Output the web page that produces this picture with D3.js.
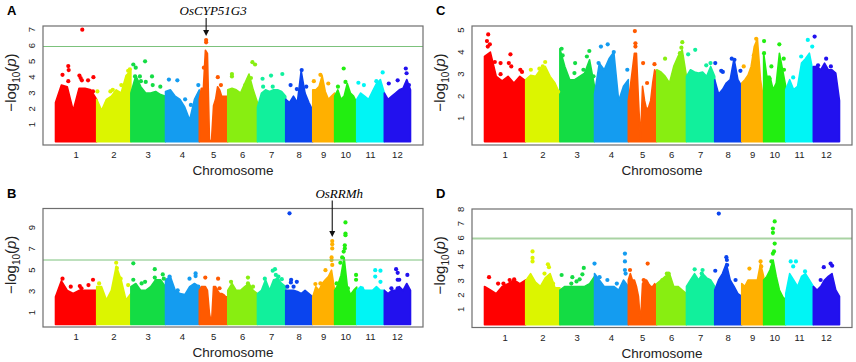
<!DOCTYPE html>
<html>
<head>
<meta charset="utf-8">
<script src="https://cdn.jsdelivr.net/npm/d3@7/dist/d3.min.js"></script>
<style>
  body { margin: 0; background: #fff; }
  svg { display: block; font-family: Arial, "Liberation Sans", sans-serif; }
</style>
</head>
<body>
<div id="vizContainer"></div>
<script>
let w = 856;
let h = 362;

// chromosomes (rice, Mb) and their colours
let chromNames = ["1", "2", "3", "4", "5", "6", "7", "8", "9", "10", "11", "12"];
let chromLengths = [43.3, 35.9, 36.4, 35.5, 29.9, 31.2, 29.7, 28.4, 23.0, 23.2, 29.0, 27.5];
let chromColors = ["#ff0000", "#dcf500", "#14dc44", "#149cf0", "#ff5a00", "#88ee11",
	"#11f09c", "#0a44ee", "#ffb000", "#22ee11", "#00f5f5", "#2211ee"];

// upper edge of the dense cloud, -log10(p) read at evenly spaced points along each chromosome
let bulkA = [
	[2.4, 3.5, 3.4, 1.9, 3.3, 3.3, 3.2, 2.6],
	[2.6, 1.9, 2.6, 2.8, 3.2, 3.0, 4.1, 4.4],
	[3.0, 4.1, 3.4, 3.0, 3.0, 3.1, 2.9, 2.8],
	[3.1, 3.2, 2.8, 2.6, 2.1, 1.3, 2.6, 3.2],
	[2.6, 3.3, 3.3, 5.7, 5.5, 0, 0, 2.2, 2.6, 3.4, 3.2, 2.8, 2.8, 2.8, 2.8],
	[3.2, 3.3, 3.2, 3.0, 3.6, 4.2, 3.2, 2.4],
	[2.1, 3.0, 3.2, 3.1, 3.2, 3.2, 3.1, 2.8],
	[2.6, 2.4, 2.8, 2.4, 4.4, 3.0, 2.4, 1.9],
	[3.2, 3.2, 3.4, 4.1, 3.1, 2.6, 2.8, 3.0],
	[2.8, 3.2, 2.6, 2.8, 3.6, 3.0, 2.8, 2.4],
	[2.6, 3.0, 2.8, 2.6, 3.1, 3.6, 3.85, 3.0],
	[3.0, 2.6, 2.8, 3.0, 3.2, 3.3, 3.85, 3.2]
];
// isolated SNPs: [chromosome index, relative position along chromosome, -log10(p)]
let hitsA = [
	[0, 0.65, 7.0], [0, 0.17, 4.15], [0, 0.31, 4.7], [0, 0.32, 4.45], [0, 0.31, 3.75], [0, 0.58, 4.1],
	[0, 0.61, 3.95], [0, 0.64, 3.8], [0, 0.79, 3.8], [0, 0.92, 4.0], [0, 0.91, 3.1],
	[1, 0.97, 4.5], [1, 0.92, 4.4], [1, 0.72, 3.5], [1, 0.47, 3.2], [1, 0.02, 3.1], [1, 0.4, 3.1],
	[2, 0.07, 4.8], [2, 0.14, 4.6], [2, 0.12, 4.05], [2, 0.26, 4.05], [2, 0.29, 3.75], [2, 0.41, 5.0],
	[2, 0.43, 3.7], [2, 0.61, 4.05], [2, 0.63, 3.5], [2, 0.85, 3.4],
	[3, 0.1, 3.85], [3, 0.35, 3.8], [3, 0.58, 2.6], [3, 0.75, 2.25], [3, 0.97, 3.5],
	[4, 0.24, 6.35], [4, 0.24, 6.2], [4, 0.16, 4.6], [4, 0.65, 4.0], [4, 0.76, 3.5],
	[5, 0.14, 4.2], [5, 0.14, 4.05], [5, 0.83, 4.95], [5, 0.92, 4.8], [5, 0.78, 3.95], [5, 0.59, 3.5],
	[6, 0.18, 3.9], [6, 0.48, 4.1], [6, 0.88, 4.2], [6, 0.54, 3.4], [6, 0.2, 3.4],
	[7, 0.59, 4.45], [7, 0.18, 3.5], [7, 0.41, 3.25], [7, 0.76, 3.4],
	[8, 0.05, 3.75], [8, 0.35, 4.15], [8, 0.71, 3.6],
	[9, 0.41, 4.55], [9, 0.15, 3.4], [9, 0.49, 3.7],
	[10, 0.06, 3.65], [10, 0.26, 3.5], [10, 0.94, 4.3], [10, 0.71, 3.75],
	[11, 0.17, 3.6], [11, 0.51, 3.8], [11, 0.82, 4.55], [11, 0.85, 4.25], [11, 0.94, 3.5]
];

let bulkB = [
	[2.5, 4.0, 3.1, 2.8, 3.1, 3.1, 3.1, 3.1],
	[3.45, 3.45, 2.2, 3.1, 5.4, 4.1, 2.2, 2.8],
	[3.45, 3.75, 3.1, 3.1, 3.45, 4.1, 4.1, 3.45],
	[4.1, 4.4, 3.1, 2.8, 2.7, 3.45, 3.75, 3.45],
	[3.1, 3.45, 3.45, 3.45, 3.1, 0.9, 0, 3.45, 3.45, 3.1, 2.8, 2.8, 2.7, 2.5, 2.5],
	[3.1, 3.75, 3.1, 3.1, 3.45, 3.75, 3.1, 2.8],
	[2.8, 3.1, 4.1, 3.1, 4.1, 4.2, 3.75, 3.45],
	[3.1, 3.1, 3.1, 3.0, 2.8, 3.1, 2.8, 2.5],
	[2.5, 3.45, 3.1, 3.75, 4.1, 4.4, 5.0, 3.1],
	[3.1, 3.6, 4.5, 6.2, 3.5, 2.7, 3.1, 3.4],
	[3.1, 3.45, 3.1, 3.1, 3.1, 3.45, 3.1, 3.1],
	[3.1, 2.8, 3.1, 3.1, 3.45, 3.1, 3.75, 3.1]
];
let hitsB = [
	[0, 0.17, 4.2], [0, 0.37, 3.45], [0, 0.59, 3.5], [0, 0.63, 3.3], [0, 0.8, 3.6], [0, 0.91, 4.1],
	[1, 0.57, 5.7], [1, 0.59, 5.2], [1, 0.7, 4.2], [1, 0.92, 3.6], [1, 0.07, 3.75],
	[2, 0.07, 5.65], [2, 0.07, 4.1], [2, 0.31, 3.75], [2, 0.41, 3.9], [2, 0.69, 5.1], [2, 0.69, 4.3],
	[2, 0.92, 4.6], [2, 0.95, 4.2],
	[3, 0.12, 4.4], [3, 0.71, 4.2], [3, 0.89, 4.7], [3, 0.89, 4.45], [3, 0.97, 3.45], [3, 0.36, 3.1],
	[4, 0.21, 4.3], [4, 0.66, 4.2], [4, 0.71, 3.3],
	[5, 0.11, 3.9], [5, 0.68, 4.3], [5, 0.68, 3.75], [5, 0.85, 3.45],
	[6, 0.26, 4.2], [6, 0.54, 4.95], [6, 0.62, 5.1], [6, 0.74, 4.4], [6, 0.71, 4.15], [6, 0.86, 4.15], [6, 0.65, 4.55],
	[7, 0.14, 10.35], [7, 0.2, 4.1], [7, 0.19, 3.85], [7, 0.41, 3.9], [7, 0.06, 3.45], [7, 0.29, 3.45],
	[8, 0.89, 7.75], [8, 0.89, 7.45], [8, 0.89, 7.05], [8, 0.86, 6.2], [8, 0.86, 5.95], [8, 0.89, 5.5],
	[8, 0.58, 5.0], [8, 0.35, 3.75], [8, 0.12, 3.7],
	[9, 0.49, 9.5], [9, 0.49, 8.45], [9, 0.49, 8.3], [9, 0.46, 7.35], [9, 0.46, 7.05], [9, 0.41, 6.75],
	[9, 0.34, 6.2], [9, 0.26, 5.7], [9, 0.09, 3.75], [9, 0.6, 3.3], [9, 0.97, 4.55], [9, 0.97, 4.1],
	[10, 0.67, 5.0], [10, 0.86, 4.95], [10, 0.67, 4.4], [10, 0.86, 3.9], [10, 0.19, 3.3],
	[11, 0.45, 5.1], [11, 0.51, 4.75], [11, 0.51, 4.1], [11, 0.57, 4.1], [11, 0.88, 4.55], [11, 0.51, 3.3], [11, 0.27, 3.3]
];

let bulkC = [
	[3.8, 4.0, 2.9, 2.7, 2.9, 2.6, 2.9, 2.7],
	[2.75, 2.95, 2.9, 3.2, 3.35, 2.9, 2.6, 2.1],
	[4.15, 3.35, 2.75, 2.75, 2.9, 3.05, 3.65, 2.45],
	[2.1, 3.5, 3.2, 3.7, 4.0, 1.8, 2.45, 2.75],
	[1.8, 2.45, 3.2, 3.95, 3.95, 1.8, 0, 2.45, 1.8, 1.4, 1.5, 1.8, 2.6, 3.2, 2.9],
	[3.2, 3.1, 2.9, 2.6, 3.35, 3.8, 4.1, 2.9],
	[2.9, 3.2, 3.1, 3.05, 3.1, 2.9, 3.35, 2.9],
	[2.75, 2.1, 2.3, 2.6, 2.75, 3.7, 2.75, 2.45],
	[2.6, 2.75, 2.95, 3.35, 4.25, 4.6, 2.75, 1.8],
	[3.95, 2.9, 2.9, 2.3, 2.6, 3.95, 3.2, 2.45],
	[2.3, 2.75, 2.3, 2.45, 3.5, 3.7, 3.95, 3.05],
	[3.35, 3.35, 3.2, 3.5, 3.2, 3.2, 3.05, 1.8]
];
let hitsC = [
	[0, 0.09, 4.8], [0, 0.06, 4.5], [0, 0.08, 4.25], [0, 0.13, 4.35], [0, 0.25, 3.55], [0, 0.39, 3.5],
	[0, 0.39, 3.0], [0, 0.63, 3.9], [0, 0.59, 3.5], [0, 0.65, 3.35], [0, 0.87, 3.2], [0, 0.91, 3.1],
	[1, 0.57, 3.55], [1, 0.15, 3.2], [1, 0.4, 3.25], [1, 0.5, 3.35], [1, 0.95, 2.2],
	[2, 0.05, 4.15], [2, 0.08, 3.85], [2, 0.44, 3.5], [2, 0.78, 3.8], [2, 0.85, 4.05], [2, 0.97, 2.9],
	[2, 0.68, 3.2], [2, 0.42, 3.05],
	[3, 0.19, 4.25], [3, 0.39, 4.35], [3, 0.57, 4.0], [3, 0.97, 3.2], [3, 0.12, 3.5],
	[4, 0.23, 4.95], [4, 0.25, 4.4], [4, 0.25, 4.25], [4, 0.52, 3.5], [4, 0.92, 3.45], [4, 0.66, 2.6],
	[5, 0.28, 3.7], [5, 0.86, 4.45], [5, 0.83, 4.2], [5, 0.78, 3.95],
	[6, 0.06, 3.9], [6, 0.31, 4.1], [6, 0.7, 3.4], [6, 0.85, 3.5],
	[7, 0.02, 3.5], [7, 0.24, 3.15], [7, 0.3, 3.1], [7, 0.63, 3.7], [7, 0.73, 3.65], [7, 0.95, 3.15],
	[8, 0.66, 4.6], [8, 0.55, 3.85], [8, 0.09, 3.35], [8, 0.82, 2.45],
	[9, 0.02, 4.5], [9, 0.02, 3.95], [9, 0.35, 3.35], [9, 0.27, 2.8], [9, 0.71, 4.35], [9, 0.91, 3.7], [9, 0.92, 3.2],
	[10, 0.27, 2.85], [10, 0.56, 3.8], [10, 0.8, 4.55], [10, 0.96, 4.25],
	[11, 0.05, 4.7], [11, 0.18, 3.4], [11, 0.49, 3.7], [11, 0.67, 3.35]
];

let bulkD = [
	[2.6, 2.35, 2.1, 2.6, 2.8, 3.05, 2.8, 3.05],
	[3.0, 3.5, 2.9, 2.6, 3.2, 3.5, 2.5, 2.5],
	[2.35, 2.6, 2.6, 2.6, 2.6, 2.6, 2.8, 3.3],
	[3.5, 3.05, 2.6, 2.6, 2.6, 2.35, 3.05, 2.6],
	[3.05, 3.5, 3.05, 3.05, 2.6, 1.9, 0, 2.8, 3.05, 3.05, 2.8, 2.6, 2.6, 2.8, 2.6],
	[2.8, 3.05, 3.3, 3.5, 2.6, 2.6, 2.35, 2.1],
	[2.6, 3.05, 3.5, 3.05, 3.5, 3.2, 3.05, 2.6],
	[2.35, 3.05, 3.5, 4.2, 3.05, 2.6, 2.1, 1.9],
	[2.8, 2.6, 3.05, 3.05, 3.05, 3.05, 4.2, 3.3],
	[3.05, 3.3, 3.75, 4.45, 3.3, 2.35, 1.9, 1.65],
	[2.1, 3.5, 3.05, 2.6, 3.3, 3.5, 3.05, 2.6],
	[2.6, 2.35, 2.6, 3.05, 3.3, 3.5, 2.35, 1.9]
];
let hitsD = [
	[0, 0.11, 3.25], [0, 0.33, 2.8], [0, 0.46, 2.8], [0, 0.61, 3.05], [0, 0.72, 3.1],
	[1, 0.2, 5.05], [1, 0.2, 4.6], [1, 0.2, 4.35], [1, 0.65, 4.15], [1, 0.68, 3.95], [1, 0.55, 3.5], [1, 0.8, 2.8],
	[2, 0.05, 3.4], [2, 0.36, 3.25], [2, 0.48, 2.95], [2, 0.57, 3.1], [2, 0.65, 3.45], [2, 0.69, 3.9], [2, 0.33, 2.8],
	[3, 0.0, 4.2], [3, 0.15, 3.25], [3, 0.38, 3.05], [3, 0.9, 4.9], [3, 0.9, 4.35], [3, 0.9, 3.75],
	[3, 0.92, 3.5], [3, 0.66, 2.8],
	[4, 0.06, 3.75], [4, 0.68, 4.2], [4, 0.54, 3.05],
	[5, 0.19, 3.05], [5, 0.34, 3.5], [5, 0.4, 3.5],
	[6, 0.29, 3.8], [6, 0.57, 3.75], [6, 0.54, 3.5],
	[7, 0.15, 7.7], [7, 0.02, 3.7], [7, 0.43, 4.65], [7, 0.45, 4.45], [7, 0.46, 4.1], [7, 0.77, 3.05],
	[8, 0.35, 3.85], [8, 0.86, 4.35], [8, 0.89, 4.0],
	[9, 0.5, 7.15], [9, 0.42, 6.65], [9, 0.42, 6.35], [9, 0.5, 5.6], [9, 0.47, 5.05], [9, 0.42, 4.9],
	[9, 0.35, 4.35], [9, 0.38, 3.9],
	[10, 0.18, 4.35], [10, 0.37, 4.35], [10, 0.27, 4.0], [10, 0.7, 3.65],
	[11, 0.4, 3.95], [11, 0.66, 4.2], [11, 0.72, 4.05], [11, 0.28, 3.05]
];

let ticksA = [1, 2, 3, 4, 5, 6, 7];
let ticksB = [1, 3, 5, 7, 9];
let ticksC = [1, 2, 3, 4, 5];
let ticksD = [1, 2, 3, 4, 5, 6, 7, 8];
let threshold = 6;

let viz = d3.select("#vizContainer").append("svg")
	.attr("width", w)
	.attr("height", h)
	.style("background-color", "white");

// cumulative start of every chromosome
let chromStart = [];
let acc = 0;
chromLengths.forEach(function (len) {
	chromStart.push(acc);
	acc += len;
});
let genomeLen = acc;

let panels = [
	{ letter: "A", bulk: bulkA, hits: hitsA, ticks: ticksA, thr: true, thrW: 1,
		x0: 43, y0: 26, boxH: 119, ymax: 7, yZero: 114.5, yTop: 3.7,
		gene: "OsCYP51G3", geneChr: 4, geneRel: 0.24, geneTop: 6.35 },
	{ letter: "B", bulk: bulkB, hits: hitsB, ticks: ticksB, thr: true, thrW: 1,
		x0: 43, y0: 208.5, boxH: 118.5, ymax: 9, yZero: 114.8, yTop: 19.2,
		gene: "OsRRMh", geneChr: 8, geneRel: 0.89, geneTop: 7.75 },
	{ letter: "C", bulk: bulkC, hits: hitsC, ticks: ticksC, thr: false, thrW: 1,
		x0: 472, y0: 26, boxH: 119, ymax: 5, yZero: 114.4, yTop: 4 },
	{ letter: "D", bulk: bulkD, hits: hitsD, ticks: ticksD, thr: true, thrW: 2.2,
		x0: 472, y0: 209, boxH: 118.5, ymax: 8, yZero: 114.6, yTop: 0.3 }
];

let boxW = 380;

panels.forEach(function (p) {
	let g = viz.append("g").attr("transform", "translate(" + p.x0 + "," + p.y0 + ")");

	let xScale = d3.scaleLinear().domain([0, genomeLen]).range([12.5, 367.5]);
	let yScale = d3.scaleLinear().domain([0, p.ymax]).range([p.yZero, p.yTop]);

	// dense part of each chromosome
	let area = d3.area()
		.x(function (d) { return xScale(d[0]); })
		.y0(yScale(0) + 1.2)
		.y1(function (d) { return yScale(d[1]); });

	p.bulk.forEach(function (vals, ci) {
		let n = vals.length;
		let pts = vals.map(function (v, j) {
			return [chromStart[ci] + chromLengths[ci] * j / (n - 1), v];
		});
		g.append("path")
			.attr("d", area(pts))
			.attr("fill", chromColors[ci])
			.attr("stroke", chromColors[ci])
			.attr("stroke-width", 1.6)
			.attr("stroke-linejoin", "round");
	});

	// single markers
	g.selectAll(".hit").data(p.hits).enter().append("circle")
		.attr("class", "hit")
		.attr("cx", function (d) { return xScale(chromStart[d[0]] + chromLengths[d[0]] * d[1]); })
		.attr("cy", function (d) { return yScale(d[2]); })
		.attr("r", 2.1)
		.attr("fill", function (d) { return chromColors[d[0]]; });

	// significance line
	if (p.thr) {
		g.append("line")
			.attr("x1", 0).attr("x2", boxW)
			.attr("y1", Math.round(yScale(threshold)) + 0.5).attr("y2", Math.round(yScale(threshold)) + 0.5)
			.attr("stroke", p.thrW > 1 ? "#a9d3a3" : "#7cc27c")
			.attr("stroke-width", p.thrW);
	}

	// frame
	g.append("rect")
		.attr("x", 0).attr("y", 0)
		.attr("width", boxW).attr("height", p.boxH)
		.attr("fill", "none")
		.attr("stroke", "#6e6e6e")
		.attr("stroke-width", 1.2);

	// y tick labels (rotated, as in R)
	g.selectAll(".ytick").data(p.ticks).enter().append("text")
		.attr("class", "ytick")
		.attr("transform", function (d) { return "translate(-8," + yScale(d) + ") rotate(-90)"; })
		.attr("text-anchor", "middle")
		.attr("font-size", 9.5)
		.attr("fill", "#222")
		.text(function (d) { return d; });

	// y title
	let yt = g.append("text")
		.attr("transform", "translate(-27," + (p.boxH / 2 - 3) + ") rotate(-90)")
		.attr("text-anchor", "middle")
		.attr("font-size", 15)
		.attr("fill", "#222");
	yt.append("tspan").text("\u2212log");
	yt.append("tspan").attr("font-size", 10).attr("dy", 4).text("10");
	yt.append("tspan").attr("dy", -4).text("(");
	yt.append("tspan").attr("font-style", "italic").text("p");
	yt.append("tspan").text(")");

	// chromosome labels
	g.selectAll(".xlab").data(chromNames).enter().append("text")
		.attr("class", "xlab")
		.attr("x", function (d, i) { return xScale(chromStart[i] + chromLengths[i] / 2); })
		.attr("y", p.boxH + 13)
		.attr("text-anchor", "middle")
		.attr("font-size", 9.5)
		.attr("fill", "#222")
		.text(function (d) { return d; });

	g.append("text")
		.attr("x", boxW / 2)
		.attr("y", p.boxH + 30)
		.attr("text-anchor", "middle")
		.attr("font-size", 13.5)
		.attr("fill", "#222")
		.text("Chromosome");

	// panel letter
	g.append("text")
		.attr("x", -36)
		.attr("y", -11)
		.attr("font-size", 13)
		.attr("font-weight", "bold")
		.text(p.letter);

	// gene annotation with arrow
	if (p.gene) {
		let gx = xScale(chromStart[p.geneChr] + chromLengths[p.geneChr] * p.geneRel);
		let tipY = yScale(p.geneTop) - 4;
		g.append("text")
			.attr("x", gx + 7)
			.attr("y", -11)
			.attr("text-anchor", "middle")
			.attr("font-family", "'Liberation Serif', 'Times New Roman', serif")
			.attr("font-style", "italic")
			.attr("font-size", 13)
			.text(p.gene);
		g.append("line")
			.attr("x1", gx).attr("x2", gx)
			.attr("y1", -8).attr("y2", tipY - 5)
			.attr("stroke", "#111").attr("stroke-width", 1.1);
		g.append("path")
			.attr("d", "M" + (gx - 3) + "," + (tipY - 6) + "L" + (gx + 3) + "," + (tipY - 6) + "L" + gx + "," + tipY + "Z")
			.attr("fill", "#111");
	}
});
</script>
</body>
</html>
